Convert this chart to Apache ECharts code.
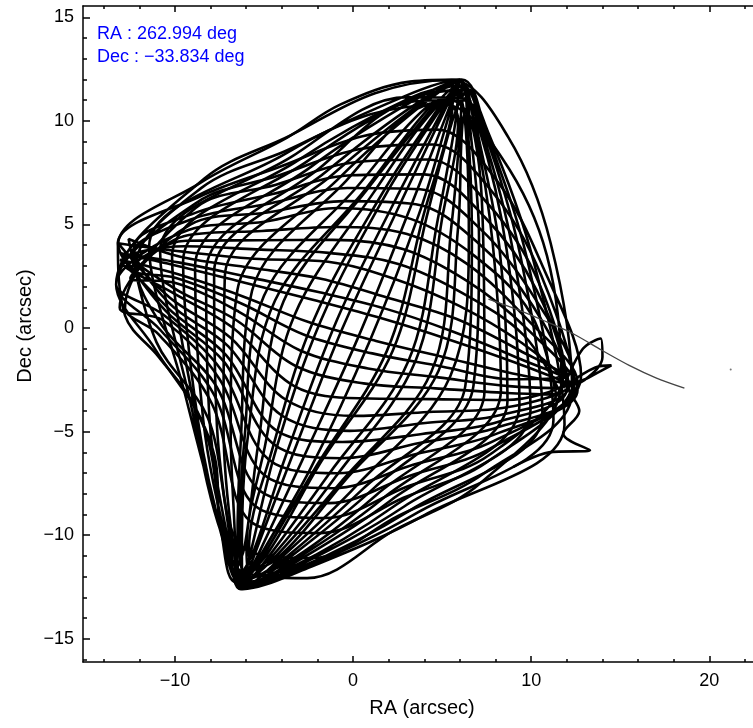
<!DOCTYPE html>
<html>
<head>
<meta charset="utf-8">
<title>Pointing track</title>
<script src="https://cdn.jsdelivr.net/npm/echarts@6.0.0/dist/echarts.min.js"></script>
<style>
  html, body { margin: 0; padding: 0; background: #fff; }
  #chart { width: 753px; height: 728px; }
</style>
</head>
<body>
<div id="chart"></div>
<script>
// Axis extents (arcsec) and tick positions
const xRange = [-15.16, 22.9];
const yRange = [-16.12, 15.55];
const xMajorTicks = [-10, 0, 10, 20];
const xMinorTicks = [-14, -12, -8, -6, -4, -2, 2, 4, 6, 8, 12, 14, 16, 18, 22];
const yMajorTicks = [-15, -10, -5, 0, 5, 10, 15];
const yMinorTicks = [-16, -14, -13, -12, -11, -9, -8, -7, -6, -4, -3, -2, -1,
  1, 2, 3, 4, 6, 7, 8, 9, 11, 12, 13, 14];

// Pointing centre
const pointingLabels = ['RA : 262.994 deg', 'Dec : \u221233.834 deg'];

// Offsets (RA, Dec in arcsec): loops running between the top and bottom turning points
const sweepNorthSouth = [
  [6.0, 12.0],
  [5.39, 10.28], [3.7, 5.5], [0.93, -0.63], [-2.4, -6.8], [-5.17, -10.94],
  [-6.2, -12.5],
  [-5.72, -10.73], [-4.3, -5.8], [-1.80, 0.38], [1.8, 6.4], [4.84, 10.49],
  [5.6, 11.3],
  [5.52, 10.23], [3.97, 5.50], [1.9, -1.1], [-2.13, -6.76], [-5.04, -10.99],
  [-5.8, -11.9],
  [-5.98, -10.64], [-4.95, -5.72], [-3.3, 0.6], [1.15, 6.54], [4.58, 10.58],
  [6.4, 11.6],
  [5.64, 10.19], [4.2, 5.6], [2.22, -1.11], [-1.9, -6.6], [-4.92, -11.03],
  [-6.5, -12.2],
  [-5.59, -10.78], [-3.77, -6.15], [-0.9, 0.4], [2.33, 6.11], [4.97, 10.44],
  [5.9, 11.9],
  [5.78, 10.14], [4.75, 5.22], [3.1, -1.6], [-1.35, -7.04], [-4.78, -11.08],
  [-6.2, -12.6],
  [-6.24, -10.54], [-5.9, -5.2], [-4.38, 1.33], [0.6, 6.6], [4.32, 10.68],
  [5.2, 10.9],
  [5.90, 10.09], [5.0, 5.3], [3.51, -1.58], [-0.98, -7.18], [-4.66, -11.13],
  [-5.6, -11.6],
  [-5.84, -10.69], [-4.54, -5.87], [-2.2, 0.4], [1.56, 6.39], [4.72, 10.53],
  [6.1, 12.0],
  [6.04, 10.04], [5.52, 4.93], [4.4, -2.1], [-0.58, -7.33], [-4.52, -11.18],
  [-6.3, -12.4],
  [-6.49, -10.45], [-6.3, -5.4], [-5.67, 1.80], [-0.39, 7.11], [4.07, 10.77],
  [6.6, 11.0],
  [6.16, 10.00], [5.89, 4.80], [4.80, -2.06], [-0.4, -7.3], [-4.40, -11.22],
  [-6.7, -11.9],
  [-6.10, -10.59], [-5.32, -5.58], [-3.9, 1.3], [0.78, 6.68], [4.46, 10.63],
  [5.7, 11.6],
  [6.29, 9.95], [6.5, 4.4], [5.47, -2.30], [0.19, -7.61], [-4.27, -11.27],
  [-6.1, -12.5],
  [-6.75, -10.35], [-7.27, -4.86], [-7.2, 2.5], [-1.17, 7.40], [3.81, 10.87],
  [6.0, 12.0],
  [6.42, 9.90], [6.67, 4.51], [6.3, -2.8], [0.57, -7.75], [-4.14, -11.32],
  [-5.9, -12.1],
  [-6.36, -10.50], [-6.09, -5.30], [-5.00, 1.56], [0.2, 6.8], [4.20, 10.72],
  [6.3, 11.3],
  [6.55, 9.85], [7.07, 4.36], [6.76, -2.78], [1.2, -7.7], [-4.01, -11.37],
  [-6.2, -12.6],
  [-7.01, -10.26], [-8.04, -4.58], [-8.25, 2.75], [-1.94, 7.68], [3.55, 10.96],
  [5.5, 11.0],
  [6.68, 9.81], [7.3, 4.5], [7.38, -3.01], [1.34, -8.03], [-3.88, -11.41],
  [-6.6, -12.2],
  [-6.62, -10.40], [-6.87, -5.01], [-6.5, 1.8], [-0.77, 7.25], [3.94, 10.82],
  [6.0, 11.9],
  [6.81, 9.76], [7.84, 4.08], [8.3, -3.0], [1.74, -8.18], [-3.75, -11.46],
  [-6.0, -12.4],
  [-7.27, -10.16], [-8.70, -4.50], [-9.54, 3.23], [-2.5, 8.1], [3.29, 11.06],
  [6.5, 11.5],
  [6.93, 9.71], [8.21, 3.94], [8.67, -3.48], [2.11, -8.32], [-3.63, -11.51],
  [-6.3, -12.6],
  [-6.88, -10.31], [-7.64, -4.73], [-7.8, 2.7], [-1.54, 7.53], [3.68, 10.91],
  [5.8, 11.7],
  [7.07, 9.66], [8.62, 3.79], [9.34, -3.73], [2.3, -8.6], [-3.49, -11.56],
  [-5.8, -12.0],
  [-7.40, -9.90], [-9.10, -3.70], [-10.83, 3.70], [-3.49, 8.25], [3.03, 11.15],
  [6.2, 11.1],
  [7.19, 9.62], [8.99, 3.66], [9.96, -3.96], [2.89, -8.60], [-3.37, -11.60],
  [-6.2, -12.5],
  [-7.13, -10.21], [-8.41, -4.44], [-8.87, 2.98], [-2.31, 7.82], [3.43, 11.01],
  [5.9, 11.9],
  [7.33, 9.57], [9.39, 3.51], [10.63, -4.20], [3.29, -8.75], [-3.23, -11.65],
  [-6.5, -12.3],
  [-7.45, -9.70], [-9.40, -3.30], [-11.45, 3.93], [-3.86, 8.39], [2.91, 11.20],
  [6.1, 12.0],
  [7.45, 9.52], [9.76, 3.37], [11.25, -4.43], [3.66, -8.89], [-3.11, -11.70],
  [-6.1, -12.5],
  [-7.35, -10.10], [-8.85, -4.10], [-10.16, 3.46], [-3.09, 8.10], [3.17, 11.10],
  [6.0, 11.7],
  [7.57, 9.48], [10.13, 3.24], [11.87, -4.66], [4.03, -9.02], [-2.99, -11.74],
  [-6.2, -12.6],
  [-6.9, -11.2], [-7.5, -9.3], [-7.7, -6.5], [-9.0, -3.6], [-10.9, -1.4], [-12.8, 0.6],
  [-13.2, 4.0], [-8.6, 7.0], [-3.7, 9.2], [-0.7, 10.8], [3.2, 11.9],
  [6.0, 12.0],
  [5.26, 10.33], [3.20, 5.79], [0.31, -0.40], [-2.90, -6.47], [-5.30, -10.89],
  [-6.2, -12.5],
  [-5.48, -10.82], [-3.46, -6.27], [-0.62, -0.06], [2.64, 5.99], [5.08, 10.40],
  [6.0, 12.0]
];

// Offsets (arcsec): loops running between the east and west turning points
const sweepEastWest = [
  [-13.0, 3.6],
  [-9.73, 3.16], [-5.87, 2.46], [-2.01, 1.75], [1.81, 0.94], [5.55, -0.15], [9.21, -1.43],
  [12.2, -2.7],
  [8.39, -3.86], [4.23, -4.05], [0.07, -4.24], [-3.77, -3.46], [-6.86, -0.48], [-10.30, 1.48],
  [-13.2, 4.1],
  [-9.55, 3.69], [-5.57, 3.35], [-1.4, 3.2], [2.30, 2.38], [5.96, 1.07], [9.46, -0.71],
  [11.6, -2.3],
  [8.86, -2.47], [4.97, -1.85], [1.08, -1.22], [-2.71, -0.33], [-6.30, 1.20], [-9.98, 2.43],
  [-12.5, 2.8],
  [-9.37, 4.22], [-5.27, 4.24], [-1.16, 4.26], [2.79, 3.82], [6.37, 2.29], [9.70, 0.02],
  [12.6, -3.0],
  [7.96, -5.13], [3.55, -6.08], [-0.87, -7.01], [-4.74, -6.34], [-7.39, -2.03], [-10.59, 0.61],
  [-13.3, 2.1],
  [-9.20, 4.75], [-4.97, 5.13], [-0.9, 5.8], [3.27, 5.26], [6.78, 3.51], [9.95, 0.74],
  [11.4, -3.2],
  [8.64, -3.13], [4.62, -2.91], [0.59, -2.67], [-3.22, -1.83], [-6.57, 0.39], [-10.13, 1.97],
  [-12.4, 3.6],
  [-9.02, 5.27], [-4.67, 6.02], [-0.32, 6.76], [3.76, 6.70], [7.20, 4.74], [10.19, 1.46],
  [12.4, -2.4],
  [7.51, -6.47], [2.83, -8.19], [-1.85, -9.90], [-5.76, -9.34], [-7.93, -3.64], [-10.90, -0.31],
  [-12.8, 1.0],
  [-8.84, 5.80], [-4.37, 6.91], [0.10, 8.01], [4.25, 8.14], [7.61, 5.96], [10.43, 2.19],
  [12.0, -2.9],
  [8.17, -4.52], [3.87, -5.11], [-0.6, -5.5], [-4.28, -4.96], [-7.14, -1.29], [-10.45, 1.02],
  [-13.2, 4.1],
  [-8.66, 6.33], [-4.07, 7.80], [0.53, 9.26], [4.73, 9.58], [8.02, 7.18], [10.68, 2.91],
  [12.8, -2.3],
  [7.74, -5.80], [3.19, -7.13], [-1.36, -8.45], [-5.25, -7.84], [-7.66, -2.83], [-10.75, 0.15],
  [-12.2, 3.0],
  [-8.51, 6.77], [-3.82, 8.54], [0.88, 10.30], [5.14, 10.78], [8.37, 8.20], [10.88, 3.51],
  [11.7, -2.6],
  [7.17, -7.47], [2.30, -9.77], [-2.58, -12.07], [-6.52, -11.59], [-8.34, -4.85], [-11.13, -0.99],
  [-13.3, 2.1],
  [-8.36, 7.21], [-3.57, 9.28], [1.23, 11.34], [5.54, 11.98], [8.71, 9.22], [11.09, 4.11],
  [12.3, -3.1],
  [7.32, -7.03], [2.53, -9.07], [-2.25, -11.10], [-6.18, -10.59], [-8.16, -4.31], [-11.03, -0.69],
  [-12.6, 4.3],
  [-9.64, 3.43], [-5.72, 2.91], [-1.80, 2.38], [2.2, 1.4], [5.75, 0.46], [9.33, -1.07],
  [12.0, -2.5],
  [8.52, -3.47], [4.44, -3.43], [0.35, -3.39], [-3.3, -2.8], [-6.71, -0.01], [-10.21, 1.75],
  [-13.0, 3.2],
  [-9.46, 3.95], [-5.42, 3.80], [-1.37, 3.63], [2.54, 3.10], [6.17, 1.68], [9.58, -0.34],
  [11.5, -2.9],
  [8.75, -2.80], [4.79, -2.38], [0.84, -1.95], [-2.97, -1.08], [-6.43, 0.80], [-10.06, 2.20],
  [-12.5, 2.4],
  [-9.28, 4.48], [-5.12, 4.69], [-0.95, 4.88], [3.03, 4.54], [6.4, 3.1], [9.82, 0.38],
  [12.6, -2.6],
  [7.85, -5.47], [3.37, -6.60], [-1.11, -7.73], [-4.99, -7.09], [-7.52, -2.43], [-10.67, 0.38],
  [-13.1, 1.0],
  [-9.11, 5.01], [-4.82, 5.58], [-0.53, 6.13], [3.52, 5.98], [6.99, 4.13], [10.07, 1.10],
  [12.1, -2.8],
  [8.28, -4.19], [4.05, -4.58], [-0.18, -4.96], [-4.02, -4.21], [-7.00, -0.88], [-10.38, 1.25],
  [-12.3, 3.9],
  [-8.93, 5.54], [-4.52, 6.47], [-0.11, 7.38], [4.00, 7.42], [7.40, 5.35], [10.31, 1.82],
  [11.8, -2.2],
  [7.62, -6.14], [3.01, -7.66], [-1.58, -9.17], [-5.50, -8.59], [-7.79, -3.24], [-10.83, -0.08],
  [-13.3, 2.1],
  [-8.75, 6.07], [-4.22, 7.36], [0.32, 8.63], [4.49, 8.86], [7.82, 6.57], [10.56, 2.55],
  [12.4, -3.0],
  [8.07, -4.80], [3.72, -5.55], [-0.63, -6.28], [-4.49, -5.58], [-7.25, -1.62], [-10.52, 0.83],
  [-13.0, 3.6],
  [-9.79, 2.99], [-5.97, 2.17], [-2.15, 1.34], [1.65, 0.46], [5.41, -0.56], [9.13, -1.67],
  [12.2, -2.7],
  [8.96, -2.19], [5.12, -1.41], [1.29, -0.62], [-2.50, 0.29], [-6.18, 1.53], [-9.91, 2.62],
  [-13.1, 3.3]
];

// Small excursions beyond the eastern turning point
const eastExcursions = [
  [11.8, -2.9], [12.9, -1.0], [13.9, -0.5], [14.0, -1.4], [13.0, -2.5], [11.9, -2.8],
  [13.6, -1.9], [14.5, -1.8], [13.2, -2.4], [12.1, -2.9], [12.7, -4.0], [11.8, -5.1],
  [13.3, -5.9], [11.0, -6.0], [9.0, -6.7]
];

// Slew away from the field at the end of the track
const slewTail = [
  [7.6, 1.4], [9.2, 0.9], [10.65, 0.38], [12.3, -0.25], [13.96, -1.07],
  [15.5, -1.8], [17.0, -2.4], [18.6, -2.9]
];
const straySample = [[21.2, -2.0]];

const FONT = '"Liberation Sans", Arial, Helvetica, sans-serif';
const minusFmt = v => (v < 0 ? '\u2212' + Math.abs(v) : String(v));
const axisStroke = { color: '#000', width: 1.5 };

function makeX(position, ticks, len, withLine, withLabel) {
  return {
    type: 'value', position, min: xRange[0], max: xRange[1],
    axisLine: { show: withLine, onZero: false, lineStyle: axisStroke },
    axisTick: { show: true, inside: true, length: len, customValues: ticks, lineStyle: axisStroke },
    axisLabel: withLabel
      ? { show: true, customValues: ticks, formatter: minusFmt, margin: 10,
          fontSize: 18, color: '#000', fontFamily: FONT }
      : { show: false },
    splitLine: { show: false }
  };
}
function makeY(ticks, len, withLine, withLabel) {
  return {
    type: 'value', position: 'left', min: yRange[0], max: yRange[1],
    axisLine: { show: withLine, onZero: false, lineStyle: axisStroke },
    axisTick: { show: true, inside: true, length: len, customValues: ticks, lineStyle: axisStroke },
    axisLabel: withLabel
      ? { show: true, customValues: ticks, formatter: minusFmt, margin: 9,
          fontSize: 18, color: '#000', fontFamily: FONT }
      : { show: false },
    splitLine: { show: false }
  };
}

const trackStyle = { color: '#000', width: 2.6 };

const chart = echarts.init(document.getElementById('chart'), null, { renderer: 'canvas' });
chart.setOption({
  animation: false,
  backgroundColor: '#fff',
  grid: { left: 83, right: -8, top: 6, bottom: 66, containLabel: false, outerBoundsMode: 'none' },
  xAxis: [
    makeX('bottom', xMajorTicks, 6, true, true),
    makeX('bottom', xMinorTicks, 3, false, false),
    makeX('top', xMajorTicks, 6, true, false),
    makeX('top', xMinorTicks, 3, false, false)
  ],
  yAxis: [
    makeY(yMajorTicks, 7, true, true),
    makeY(yMinorTicks, 4, false, false)
  ],
  series: [
    { type: 'line', data: sweepNorthSouth, smooth: 0.35, showSymbol: false,
      lineStyle: trackStyle, silent: true },
    { type: 'line', data: sweepEastWest, smooth: 0.35, showSymbol: false,
      lineStyle: trackStyle, silent: true },
    { type: 'line', data: eastExcursions, smooth: 0.35, showSymbol: false,
      lineStyle: trackStyle, silent: true },
    { type: 'line', data: slewTail, smooth: 0.3, showSymbol: false,
      lineStyle: { color: '#444', width: 1.3 }, silent: true },
    { type: 'scatter', data: straySample, symbolSize: 2,
      itemStyle: { color: '#555' }, silent: true }
  ],
  graphic: [
    { type: 'text', x: 97, y: 34.5,
      style: { text: pointingLabels[0], fill: '#0000ff', font: '18px ' + FONT,
               align: 'left', verticalAlign: 'middle' } },
    { type: 'text', x: 97, y: 57,
      style: { text: pointingLabels[1], fill: '#0000ff', font: '18px ' + FONT,
               align: 'left', verticalAlign: 'middle' } },
    { type: 'text', x: 422, y: 708.4,
      style: { text: 'RA (arcsec)', fill: '#000', font: '20px ' + FONT,
               align: 'center', verticalAlign: 'middle' } },
    { type: 'text', x: 25, y: 326, rotation: Math.PI / 2,
      style: { text: 'Dec (arcsec)', fill: '#000', font: '20px ' + FONT,
               align: 'center', verticalAlign: 'middle' } }
  ]
});
</script>
</body>
</html>
